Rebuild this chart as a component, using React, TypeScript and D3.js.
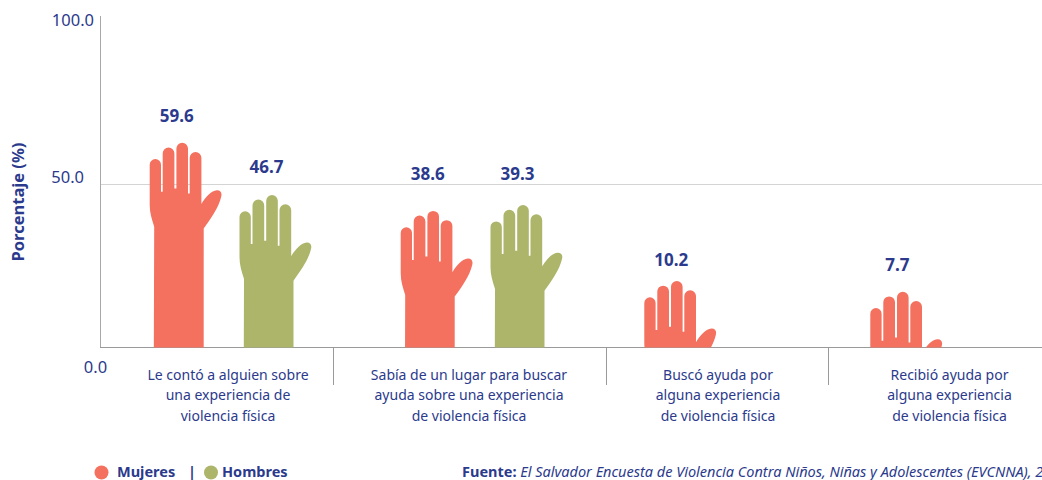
import React, { useEffect, useRef } from 'react';
import * as d3 from 'd3';

const categories = ['contar', 'lugar', 'buscar', 'recibir'];
const categoryLines = [
  ['Le contó a alguien sobre', 'una experiencia de', 'violencia física'],
  ['Sabía de un lugar para buscar', 'ayuda sobre una experiencia', 'de violencia física'],
  ['Buscó ayuda por', 'alguna experiencia', 'de violencia física'],
  ['Recibió ayuda por', 'alguna experiencia', 'de violencia física'],
];
const mujeres = [59.6, 38.6, 10.2, 7.7];
const hombres = [46.7, 39.3, null, null];
// the hands are pictograms: how high each one reaches on the axis
const mujeresHandTop = [62.8, 41.9, 20.4, 17.1];
const hombresHandTop = [46.8, 43.7, null, null];
const mujeresLabelAt = [71, 53.3, 26.9, 25.4];
const hombresLabelAt = [55.4, 53.3, null, null];
const yTicks = [100, 50];

const NAVY = '#2b3a8c';
const RED = '#f4705f';
const GREEN = '#adb56a';
const FONT = "'Noto Sans', sans-serif";

const HAND =
  'M0.5 84C-2 76-4 70-4 62L-4 22A5.65 5.65 0 0 1 7.3 22L7.3 49L9 49L9 10.5A5.85 5.85 0 0 1 20.7 10.5L20.7 45.7L22.7 45.7L22.7 5.8A5.8 5.8 0 0 1 34.3 5.8L34.3 50.7L36 50.7L36 15.1A5.85 5.85 0 0 1 47.7 15.1L47.7 61.3C52 54 58 48 63 47.6C67 47.4 68.5 50 67.5 54C65 65 57 76 50 85.7L50 400L-0.5 400Z';

const App = () => {
  const svgRef = useRef<SVGSVGElement>(null);

  useEffect(() => {
    const svg = d3.select(svgRef.current);
    svg.selectAll('*').remove();

    const y = d3.scaleLinear().domain([0, 100]).range([347.5, 21.5]);
    // groups are not evenly spaced in the original
    const xMujeres = d3.scaleOrdinal<string, number>().domain(categories).range([153.7, 404.7, 648.3, 874.3]);
    const xLabel = d3.scaleOrdinal<string, number>().domain(categories).range([228, 469, 718, 949.5]);
    const dividers = [333.5, 606.5, 828.5];
    const gap = 89.8;

    svg
      .append('defs')
      .append('clipPath')
      .attr('id', 'plot')
      .append('rect')
      .attr('x', 100)
      .attr('y', 0)
      .attr('width', 942)
      .attr('height', y(0));

    // gridline, axis, baseline
    svg.append('line').attr('x1', 101).attr('x2', 1042).attr('y1', y(50)).attr('y2', y(50)).attr('stroke', '#d4d4d4');
    svg.append('line').attr('x1', 100.5).attr('x2', 100.5).attr('y1', 16).attr('y2', y(0)).attr('stroke', '#a8a8a8');
    svg.append('line').attr('x1', 100).attr('x2', 1042).attr('y1', y(0)).attr('y2', y(0)).attr('stroke', '#9a9a9a');

    svg
      .selectAll('.divider')
      .data(dividers)
      .join('line')
      .attr('x1', (d) => d)
      .attr('x2', (d) => d)
      .attr('y1', y(0))
      .attr('y2', 385)
      .attr('stroke', '#9a9a9a');

    const axis = svg
      .append('g')
      .attr('transform', 'translate(94,0)')
      .call(d3.axisLeft(y).tickValues(yTicks).tickSize(0).tickPadding(0).tickFormat(d3.format('.1f')));
    axis.select('.domain').remove();
    axis
      .selectAll('text')
      .attr('font-family', FONT)
      .attr('font-size', 16.5)
      .attr('fill', NAVY)
      .attr('dx', (d) => (d === 50 ? -10 : 0))
      .attr('dy', (d) => (d === 50 ? -2 : 4));

    svg
      .append('text')
      .attr('x', 95.5)
      .attr('y', 372.5)
      .attr('text-anchor', 'middle')
      .attr('font-family', FONT)
      .attr('font-size', 16.5)
      .attr('fill', NAVY)
      .text('0.0');

    svg
      .append('text')
      .attr('transform', `translate(24,202) rotate(-90)`)
      .attr('text-anchor', 'middle')
      .attr('font-family', FONT)
      .attr('font-size', 16.5)
      .attr('font-weight', 700)
      .attr('fill', NAVY)
      .text('Porcentaje (%)');

    // hands, clipped at the baseline
    const hands = svg.append('g').attr('clip-path', 'url(#plot)');
    const labels = svg.append('g');

    const drawSeries = (
      values: (number | null)[],
      tops: (number | null)[],
      labelAt: (number | null)[],
      fill: string,
      shift: number,
    ) => {
      categories.forEach((c, i) => {
        const v = values[i];
        if (v == null) return;
        const x = xMujeres(c) + shift;
        hands.append('path').attr('d', HAND).attr('fill', fill).attr('transform', `translate(${x},${y(tops[i] as number)})`);
        labels
          .append('text')
          .attr('x', x + 23)
          .attr('y', y(labelAt[i] as number) + 6)
          .attr('text-anchor', 'middle')
          .attr('font-family', FONT)
          .attr('font-size', 17)
          .attr('font-weight', 700)
          .attr('fill', NAVY)
          .text(d3.format('.1f')(v));
      });
    };
    drawSeries(mujeres, mujeresHandTop, mujeresLabelAt, RED, 0);
    drawSeries(hombres, hombresHandTop, hombresLabelAt, GREEN, gap);

    // category labels
    categories.forEach((c, i) => {
      svg
        .append('text')
        .attr('text-anchor', 'middle')
        .attr('font-family', FONT)
        .attr('font-size', 14)
        .attr('fill', NAVY)
        .selectAll('tspan')
        .data(categoryLines[i])
        .join('tspan')
        .attr('x', xLabel(c))
        .attr('y', (_, j) => 380 + j * 20.3)
        .text((d) => d);
    });

    // legend
    const legend = svg.append('g').attr('font-family', FONT).attr('font-size', 14.5).attr('font-weight', 700).attr('fill', NAVY);
    legend.append('circle').attr('cx', 101.5).attr('cy', 472.5).attr('r', 7).attr('fill', RED);
    legend.append('text').attr('x', 117).attr('y', 477).text('Mujeres');
    legend.append('text').attr('x', 188).attr('y', 477).text('|');
    legend.append('circle').attr('cx', 211).attr('cy', 472.5).attr('r', 7).attr('fill', GREEN);
    legend.append('text').attr('x', 222).attr('y', 477).text('Hombres');

    const source = svg.append('text').attr('x', 462).attr('y', 477).attr('font-family', FONT).attr('font-size', 14.5).attr('fill', NAVY);
    source.append('tspan').attr('font-weight', 700).text('Fuente: ');
    source
      .append('tspan')
      .attr('font-style', 'italic')
      .text('El Salvador Encuesta de Violencia Contra Niños, Niñas y Adolescentes (EVCNNA), 2');
  }, []);

  return (
    <svg
      ref={svgRef}
      width={1042}
      height={480}
      style={{ position: 'absolute', left: 0, top: 0, background: '#fff' }}
    />
  );
};

export default App;
